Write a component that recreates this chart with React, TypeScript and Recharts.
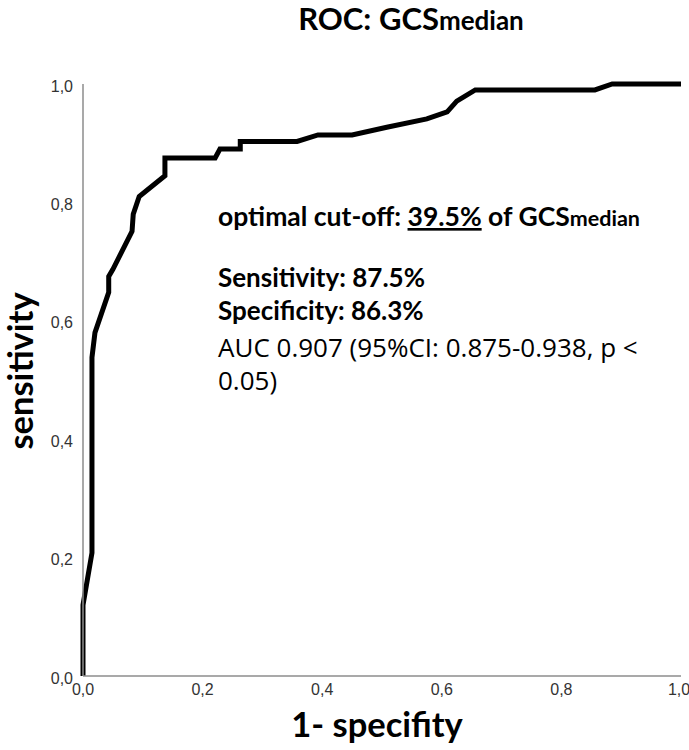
import React from 'react';
import { LineChart, Line, XAxis, YAxis } from 'recharts';

document.body.style.margin = '0';

// ROC curve points
const fpr = [0, 0, 0.015, 0.015, 0.02, 0.043, 0.043, 0.05, 0.082, 0.084, 0.094, 0.137, 0.137, 0.221, 0.229, 0.263, 0.263, 0.358, 0.393, 0.45, 0.508, 0.575, 0.609, 0.625, 0.656, 0.856, 0.885, 1.0];
const tpr = [0, 0.12, 0.208, 0.538, 0.58, 0.648, 0.675, 0.687, 0.751, 0.78, 0.81, 0.845, 0.875, 0.875, 0.89, 0.89, 0.903, 0.903, 0.914, 0.914, 0.927, 0.941, 0.953, 0.971, 0.99, 0.99, 1.0, 1.0];
const ticks = [0, 0.2, 0.4, 0.6, 0.8, 1.0];

const data = fpr.map((x, i) => ({ x, y: tpr[i] }));
const fmt = (v: number) => v.toFixed(1).replace('.', ',');
const FONT = 'Lato, "Open Sans", sans-serif';
const tickStyle = { fontFamily: '"Liberation Sans", Arial, sans-serif', fontSize: 16, fill: '#333' };

export default function App() {
  return (
    <div style={{ width: 689, height: 750, background: '#fff' }}>
      <LineChart width={689} height={750} data={data} margin={{ top: 84, right: 8, bottom: 44, left: 23 }}>
        <XAxis
          dataKey="x" type="number" domain={[0, 1]} ticks={ticks} tickFormatter={fmt}
          stroke="#8c8c8c" strokeWidth={1.5} tickLine={false} tickSize={6} tickMargin={2}
          height={30} tick={tickStyle}
        />
        <YAxis
          dataKey="y" type="number" domain={[0, 1]} ticks={ticks} tickFormatter={fmt}
          stroke="#8c8c8c" strokeWidth={1.5} tickLine={false} tickSize={6} tickMargin={4}
          width={60} tick={{ ...tickStyle, dy: 2 }}
        />
        <Line dataKey="y" type="linear" stroke="#000" strokeWidth={5} dot={false} isAnimationActive={false} />

        <text x={411} y={30} textAnchor="middle" fontFamily={FONT} fontWeight={700} fontSize={31} fill="#000">
          ROC: GCS<tspan fontSize={26}>median</tspan>
        </text>
        <text x={377} y={737} textAnchor="middle" fontFamily={FONT} fontWeight={700} fontSize={34.5} fill="#000">
          1- specifity
        </text>
        <text x={33} y={371} textAnchor="middle" transform="rotate(-90 33 371)" fontFamily={FONT} fontWeight={700} fontSize={34.5} fill="#000">
          sensitivity
        </text>

        <g fontFamily={FONT} fill="#000">
          <text x={218} y={226} fontWeight={700} fontSize={26.5}>
            optimal cut-off: <tspan textDecoration="underline">39.5%</tspan> of GCS<tspan fontSize={21.5}>median</tspan>
          </text>
          <text x={218} y={287} fontWeight={700} fontSize={26}>Sensitivity: 87.5%</text>
          <text x={218} y={320} fontWeight={700} fontSize={26}>Specificity: 86.3%</text>
          <text x={218} y={357} fontSize={26} fontFamily='"Open Sans", sans-serif'>AUC 0.907 (95%CI: 0.875-0.938, p &lt;</text>
          <text x={218} y={390} fontSize={26} fontFamily='"Open Sans", sans-serif'>0.05)</text>
        </g>
      </LineChart>
    </div>
  );
}
